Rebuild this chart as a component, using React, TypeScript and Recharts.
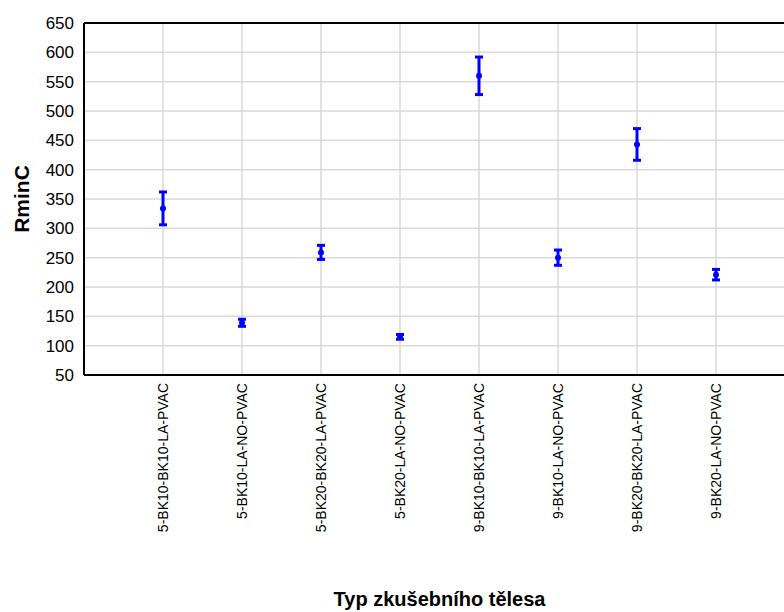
import { ScatterChart, Scatter, XAxis, YAxis, CartesianGrid, ErrorBar, ReferenceLine } from "recharts";

const CATEGORIES = [
  "5-BK10-BK10-LA-PVAC",
  "5-BK10-LA-NO-PVAC",
  "5-BK20-BK20-LA-PVAC",
  "5-BK20-LA-NO-PVAC",
  "9-BK10-BK10-LA-PVAC",
  "9-BK10-LA-NO-PVAC",
  "9-BK20-BK20-LA-PVAC",
  "9-BK20-LA-NO-PVAC",
];
const MEANS = [334, 139, 259, 115, 560, 250, 443, 221];
const ERRORS = [28, 6, 12, 4, 32, 13, 27, 9];
const Y_TICKS = [50, 100, 150, 200, 250, 300, 350, 400, 450, 500, 550, 600, 650];
const X_TICKS = [1, 2, 3, 4, 5, 6, 7, 8];

const FONT = "'Liberation Sans', Arial, sans-serif";
const BLUE = "#0000ff";

const data = CATEGORIES.map((name, i) => ({
  idx: i + 1,
  name,
  value: MEANS[i],
  err: ERRORS[i],
}));

function XTick({ x, y, payload }: any) {
  const label = CATEGORIES[payload.value - 1] ?? "";
  return (
    <text
      x={x}
      y={y}
      transform={`rotate(-90, ${x}, ${y})`}
      textAnchor="end"
      dy="0.35em"
      fontSize={14}
      fontFamily={FONT}
      fill="#000"
    >
      {label}
    </text>
  );
}

function YTitle({ viewBox }: any) {
  const cx = 14;
  const cy = viewBox.y + viewBox.height / 2;
  return (
    <text
      x={cx}
      y={cy}
      transform={`rotate(-90, ${cx}, ${cy})`}
      textAnchor="middle"
      dy="0.35em"
      fontSize={21}
      fontWeight="bold"
      fontFamily={FONT}
      fill="#000"
    >
      RminC
    </text>
  );
}

function Dot({ cx, cy }: any) {
  return <circle cx={cx} cy={cy} r={3} fill={BLUE} />;
}

export default function App() {
  return (
    <div
      style={{
        width: 784,
        height: 612,
        boxSizing: "border-box",
        padding: "8px 0 0 8px",
        overflow: "hidden",
        background: "#fff",
      }}
    >
      <style>{`body { margin: 0; }`}</style>
      <ScatterChart
        width={800}
        height={604}
        margin={{ top: 15, right: 13, bottom: 0, left: 0 }}
        style={{ fontFamily: FONT }}
      >
        <CartesianGrid stroke="#d9d9d9" strokeWidth={1.5} />
        <XAxis
          xAxisId={0}
          type="number"
          dataKey="idx"
          domain={[0, 9]}
          ticks={X_TICKS}
          tick={<XTick />}
          tickLine={false}
          tickSize={4}
          tickMargin={4}
          height={237}
          axisLine={{ stroke: "#000", strokeWidth: 2 }}
          label={{
            value: "Typ zkušebního tělesa",
            position: "insideBottom",
            offset: 6,
            fontSize: 20,
            fontWeight: "bold",
            fill: "#000",
            fontFamily: FONT,
          }}
        />
        <XAxis
          xAxisId="top"
          orientation="top"
          type="number"
          domain={[0, 9]}
          ticks={X_TICKS}
          tickFormatter={() => ""}
          mirror
          height={0}
          tickSize={4}
          tickLine={{ stroke: "#000", strokeWidth: 2 }}
          axisLine={{ stroke: "#000", strokeWidth: 2 }}
        />
        <YAxis
          type="number"
          domain={[50, 650]}
          ticks={Y_TICKS}
          interval={0}
          width={76}
          tickLine={false}
          tickSize={6}
          tickMargin={4}
          axisLine={{ stroke: "#000", strokeWidth: 2 }}
          tick={{ fontSize: 17, fill: "#000", fontFamily: FONT }}
          label={<YTitle />}
        />
        <ReferenceLine y={650} stroke="#000" strokeWidth={2} />
        <Scatter data={data} dataKey="value" fill={BLUE} shape={<Dot />} isAnimationActive={false}>
          <ErrorBar dataKey="err" direction="y" width={4} strokeWidth={3} stroke={BLUE} />
        </Scatter>
      </ScatterChart>
    </div>
  );
}
